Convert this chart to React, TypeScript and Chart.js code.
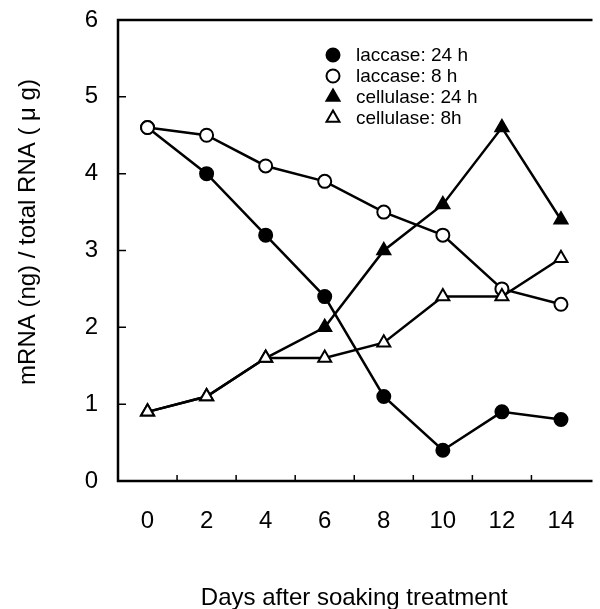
import React, { useEffect, useRef } from "react";
import { Chart, registerables } from "chart.js";

Chart.register(...registerables);

const days = [0, 2, 4, 6, 8, 10, 12, 14];
const laccase24 = [4.6, 4.0, 3.2, 2.4, 1.1, 0.4, 0.9, 0.8];
const laccase8 = [4.6, 4.5, 4.1, 3.9, 3.5, 3.2, 2.5, 2.3];
const cellulase24 = [0.9, 1.1, 1.6, 2.0, 3.0, 3.6, 4.6, 3.4];
const cellulase8 = [0.9, 1.1, 1.6, 1.6, 1.8, 2.4, 2.4, 2.9];
const yTickValues = [0, 1, 2, 3, 4, 5, 6];
const xMinorTicks = [1, 3, 5, 7, 9, 11, 13];
const seriesLabels = ["laccase: 24 h", "laccase: 8 h", "cellulase: 24 h", "cellulase: 8h"];
const xTitle = "Days after soaking treatment";
const yTitle = "mRNA (ng) / total RNA ( \u03bc g)";

const FONT = "'Liberation Sans', Arial, sans-serif";

const framePlugin = {
  id: "frameAndLabels",
  afterDraw(chart: any) {
    const { ctx, chartArea } = chart;
    const { left, right, top, bottom } = chartArea;
    const xs = chart.scales.x;
    const ys = chart.scales.y;
    ctx.save();
    ctx.strokeStyle = "#000";
    ctx.lineWidth = 2.5;
    ctx.beginPath();
    ctx.moveTo(right + 2, top);
    ctx.lineTo(left, top);
    ctx.lineTo(left, bottom);
    ctx.lineTo(right + 2, bottom);
    ctx.stroke();
    ctx.lineWidth = 1.5;
    ctx.beginPath();
    for (const v of yTickValues) {
      if (v === 0 || v === 6) continue;
      const y = ys.getPixelForValue(v);
      ctx.moveTo(left, y);
      ctx.lineTo(left + 8, y);
    }
    for (const d of xMinorTicks) {
      const x = xs.getPixelForValue(d);
      ctx.moveTo(x, bottom);
      ctx.lineTo(x, bottom - 6);
    }
    ctx.stroke();

    // titles
    ctx.fillStyle = "#000";
    ctx.font = `24px ${FONT}`;
    ctx.textAlign = "center";
    ctx.textBaseline = "alphabetic";
    ctx.fillText(xTitle, (left + right) / 2, 605);
    ctx.save();
    ctx.translate(35, 232);
    ctx.rotate(-Math.PI / 2);
    ctx.fillText(yTitle, 0, 0);
    ctx.restore();

    // legend
    const datasets = chart.data.datasets;
    const lx = 333;
    const ly0 = 55;
    const dy = 21;
    ctx.font = `19px ${FONT}`;
    ctx.textAlign = "left";
    ctx.textBaseline = "middle";
    datasets.forEach((ds: any, i: number) => {
      const y = ly0 + i * dy;
      ctx.lineWidth = 2;
      ctx.strokeStyle = "#000";
      ctx.fillStyle = ds.pointBackgroundColor;
      ctx.beginPath();
      if (ds.pointStyle === "circle") {
        ctx.arc(lx, y, 6.5, 0, Math.PI * 2);
      } else {
        const r = 7.5;
        ctx.moveTo(lx, y - r);
        ctx.lineTo(lx + Math.sin((2 * Math.PI) / 3) * r, y - Math.cos((2 * Math.PI) / 3) * r);
        ctx.lineTo(lx + Math.sin((4 * Math.PI) / 3) * r, y - Math.cos((4 * Math.PI) / 3) * r);
        ctx.closePath();
      }
      ctx.fill();
      ctx.stroke();
      ctx.fillStyle = "#000";
      ctx.fillText(ds.label, lx + 23, y + 1);
    });
    ctx.restore();
  },
};

const zeroPad = (s: any) => {
  s.paddingTop = 0;
  s.paddingBottom = 0;
  s.paddingLeft = 0;
  s.paddingRight = 0;
};

export default function App() {
  const ref = useRef<HTMLCanvasElement>(null);
  useEffect(() => {
    if (!ref.current) return;
    const mk = (label: string, data: number[], style: string, filled: boolean, order: number) => ({
      label,
      data: days.map((d, i) => ({ x: d, y: data[i] })),
      borderColor: "#000",
      borderWidth: 2.5,
      pointStyle: style,
      pointRadius: style === "circle" ? 6.5 : 7.5,
      pointBorderWidth: 2,
      pointBorderColor: "#000",
      pointBackgroundColor: filled ? "#000" : "#fff",
      fill: false,
      tension: 0,
      showLine: true,
      order,
    });
    const chart = new Chart(ref.current, {
      type: "scatter",
      data: {
        datasets: [
          mk(seriesLabels[0], laccase24, "circle", true, 4),
          mk(seriesLabels[1], laccase8, "circle", false, 3),
          mk(seriesLabels[2], cellulase24, "triangle", true, 2),
          mk(seriesLabels[3], cellulase8, "triangle", false, 1),
        ] as any,
      },
      options: {
        animation: false,
        responsive: false,
        devicePixelRatio: 1,
        layout: { padding: { top: 20, right: 0, left: 0, bottom: 0 } },
        plugins: { legend: { display: false }, tooltip: { enabled: false } },
        scales: {
          x: {
            type: "linear",
            min: -1,
            max: 15,
            grid: { display: false, drawTicks: false },
            border: { display: false },
            ticks: {
              stepSize: 1,
              autoSkip: false,
              maxRotation: 0,
              padding: 26,
              color: "#000",
              font: { size: 24, family: FONT },
              callback: (v: any) => (days.includes(Number(v)) ? String(v) : ""),
            },
            afterFit: (s: any) => {
              s.height = 128;
              zeroPad(s);
            },
          },
          y: {
            min: 0,
            max: 6,
            grid: { display: false, drawTicks: false },
            border: { display: false },
            ticks: {
              stepSize: 1,
              padding: 20,
              color: "#000",
              font: { size: 24, family: FONT },
              callback: (v: any) => (yTickValues.includes(Number(v)) ? String(v) : ""),
            },
            afterFit: (s: any) => {
              s.width = 118;
              zeroPad(s);
            },
          },
        },
      },
      plugins: [framePlugin],
    });
    return () => chart.destroy();
  }, []);
  return (
    <div style={{ position: "absolute", left: 0, top: 0, width: 600, height: 609, background: "#fff" }}>
      <canvas ref={ref} width={600} height={609} style={{ width: 600, height: 609, display: "block" }} />
    </div>
  );
}
